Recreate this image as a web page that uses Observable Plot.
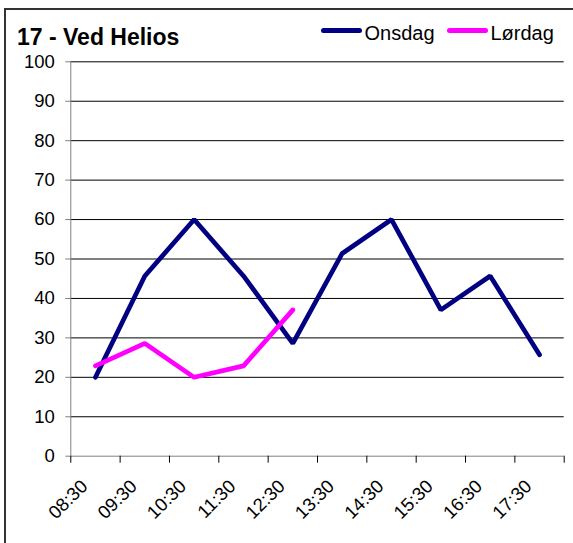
<!DOCTYPE html>
<html><head><meta charset="utf-8">
<script src="https://cdn.jsdelivr.net/npm/d3@7"></script>
<script src="https://cdn.jsdelivr.net/npm/@observablehq/plot@0.6"></script>
<style>
html,body{margin:0;padding:0;background:#fff;overflow:hidden;}
#wrap{position:relative;width:573px;height:543px;overflow:hidden;font-family:"Liberation Sans",Arial,sans-serif;color:#000;}
#frame{position:absolute;left:4px;top:8px;width:620px;height:620px;border:2px solid #333;box-sizing:border-box;}
#title{position:absolute;left:17px;top:26.2px;font-size:23px;font-weight:bold;line-height:23px;white-space:nowrap;}
.sw{position:absolute;height:5px;border-radius:2.5px;top:28.2px;}
.lt{position:absolute;font-size:20px;line-height:20px;top:23.1px;white-space:nowrap;}
#chart{position:absolute;left:0;top:0;}
</style></head>
<body>
<div id="wrap">
  <div id="frame"></div>
  <div id="chart"></div>
  <div id="title">17 - Ved Helios</div>
  <div id="legend"></div>
</div>
<script>
const times = ["08:30","09:30","10:30","11:30","12:30","13:30","14:30","15:30","16:30","17:30"];
const onsdag = [20, 45.7, 60, 45.7, 28.6, 51.4, 60, 37.1, 45.7, 25.7];
const lordag = [22.9, 28.6, 20, 22.9, 37.1];
const yTicks = [0, 10, 20, 30, 40, 50, 60, 70, 80, 90, 100];
const seriesNames = ["Onsdag", "Lørdag"];
const seriesColors = ["#000080", "#FF00FF"];

const centers = times.map((_, i) => i + 0.5);
const bounds = d3.range(times.length + 1);
const FS = 18.5;

const chart = Plot.plot({
  width: 573,
  height: 543,
  marginLeft: 70.3,
  marginRight: 9.3,
  marginTop: 61.3,
  marginBottom: 87.3,
  style: {fontFamily: '"Liberation Sans", Arial, sans-serif', fontSize: "18.5px", background: "transparent", color: "#000"},
  x: {type: "linear", domain: [0, times.length], axis: null},
  y: {domain: [0, 100], axis: null},
  marks: [
    Plot.ruleY(yTicks.filter(d => d > 0), {stroke: "#000", strokeWidth: 1}),
    Plot.ruleX([0], {stroke: "#808080", strokeWidth: 1}),
    Plot.ruleY([0], {stroke: "#808080", strokeWidth: 1}),
    Plot.axisY({ticks: yTicks, tickSize: 5, tickPadding: 11, stroke: "#808080", fill: "#000", fontSize: FS, tickFormat: d => String(d)}),
    Plot.axisX({ticks: bounds, tickSize: 7, tickFormat: () => "", stroke: "#000"}),
    Plot.axisX({ticks: centers, tickSize: 0, tickPadding: 27, tickRotate: -45, textAnchor: "end", dx: -11, fontSize: FS,
      tickFormat: v => times[Math.floor(v)], fill: "#000"}),
    Plot.lineY(onsdag, {x: (d, i) => i + 0.5, y: d => d, stroke: seriesColors[0], strokeWidth: 4.7, strokeLinejoin: "miter", strokeLinecap: "round"}),
    Plot.lineY(lordag, {x: (d, i) => i + 0.5, y: d => d, stroke: seriesColors[1], strokeWidth: 4.7, strokeLinejoin: "miter", strokeLinecap: "round"})
  ]
});
document.getElementById("chart").appendChild(chart);

// legend
const legend = document.getElementById("legend");
const legendPos = [{sw: 320.7, tx: 364.5}, {sw: 446.7, tx: 490.5}];
seriesNames.forEach((name, i) => {
  const sw = document.createElement("div");
  sw.className = "sw";
  sw.style.left = legendPos[i].sw + "px";
  sw.style.width = "41px";
  sw.style.background = seriesColors[i];
  legend.appendChild(sw);
  const t = document.createElement("div");
  t.className = "lt";
  t.style.left = legendPos[i].tx + "px";
  t.textContent = name;
  legend.appendChild(t);
});
</script>
</body></html>
